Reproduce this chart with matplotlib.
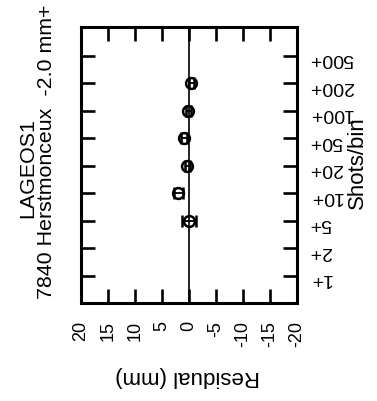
import matplotlib
matplotlib.use("Agg")
import matplotlib.pyplot as plt

# Shots-per-bin categories (normal-point bins) and residuals per bin
bins = ['1+', '2+', '5+', '10+', '20+', '50+', '100+', '200+', '500+']
point_bins = ['5+', '10+', '20+', '50+', '100+', '200+']
residual_mm = [0.0, 2.0, 0.3, 0.9, 0.1, -0.45]
residual_err = [1.35, 0.8, 0.5, 0.5, 0.4, 0.4]
residual_ticks = [20, 15, 10, 5, 0, -5, -10, -15, -20]
title_sat = 'LAGEOS1'
title_station = '7840 Herstmonceux  -2.0 mm+'

plt.rcParams['font.family'] = ['Liberation Sans', 'DejaVu Sans']

W, H = 377, 402
fig = plt.figure(figsize=(W / 100, H / 100), dpi=100)
fig.patch.set_facecolor('white')

left, right, top, bottom = 81, 297, 28, 304
ax = fig.add_axes([left / W, 1 - bottom / H, (right - left) / W, (bottom - top) / H])

ypos = [bins.index(b) for b in point_bins]

ax.axvline(0, color='black', lw=1.2, zorder=2)
ax.errorbar(residual_mm, ypos, xerr=residual_err, fmt='o', mfc='none', mec='black',
            ms=7.8, mew=1.8, ecolor='black', elinewidth=1.3, capsize=4, capthick=1.6,
            zorder=3)

ax.set_xlim(20, -20)
ax.set_ylim(-1, 9.05)

ax.set_xticks(residual_ticks)
ax.set_xticklabels([str(t) for t in residual_ticks])
ax.set_yticks(range(len(bins)))
ax.set_yticklabels(bins)

for s in ax.spines.values():
    s.set_linewidth(2.2)

ax.tick_params(axis='x', which='both', direction='in', length=10, width=1.9,
               top=True, bottom=True, labelbottom=True, labeltop=False,
               labelrotation=90, labelsize=13, pad=12)
ax.tick_params(axis='y', which='both', direction='in', length=10, width=1.9,
               left=True, right=True, labelleft=False, labelright=True,
               labelrotation=180, labelsize=14, pad=8.5)

# Axis titles and plot heading
fig.text(188 / W, 1 - 377 / H, 'Residual (mm)', rotation=180, ha='center', va='center',
         fontsize=16)
fig.text(357 / W, 1 - 163 / H, 'Shots/bin', rotation=90, ha='center', va='center',
         fontsize=16)
fig.text(33 / W, 1 - 168 / H, title_sat, rotation=90, rotation_mode='anchor',
         ha='center', va='baseline', fontsize=15.4)
fig.text(52 / W, 1 - 152 / H, title_station, rotation=90, rotation_mode='anchor',
         ha='center', va='baseline', fontsize=15.4)

fig.savefig('out.png', dpi=100, facecolor='white')
